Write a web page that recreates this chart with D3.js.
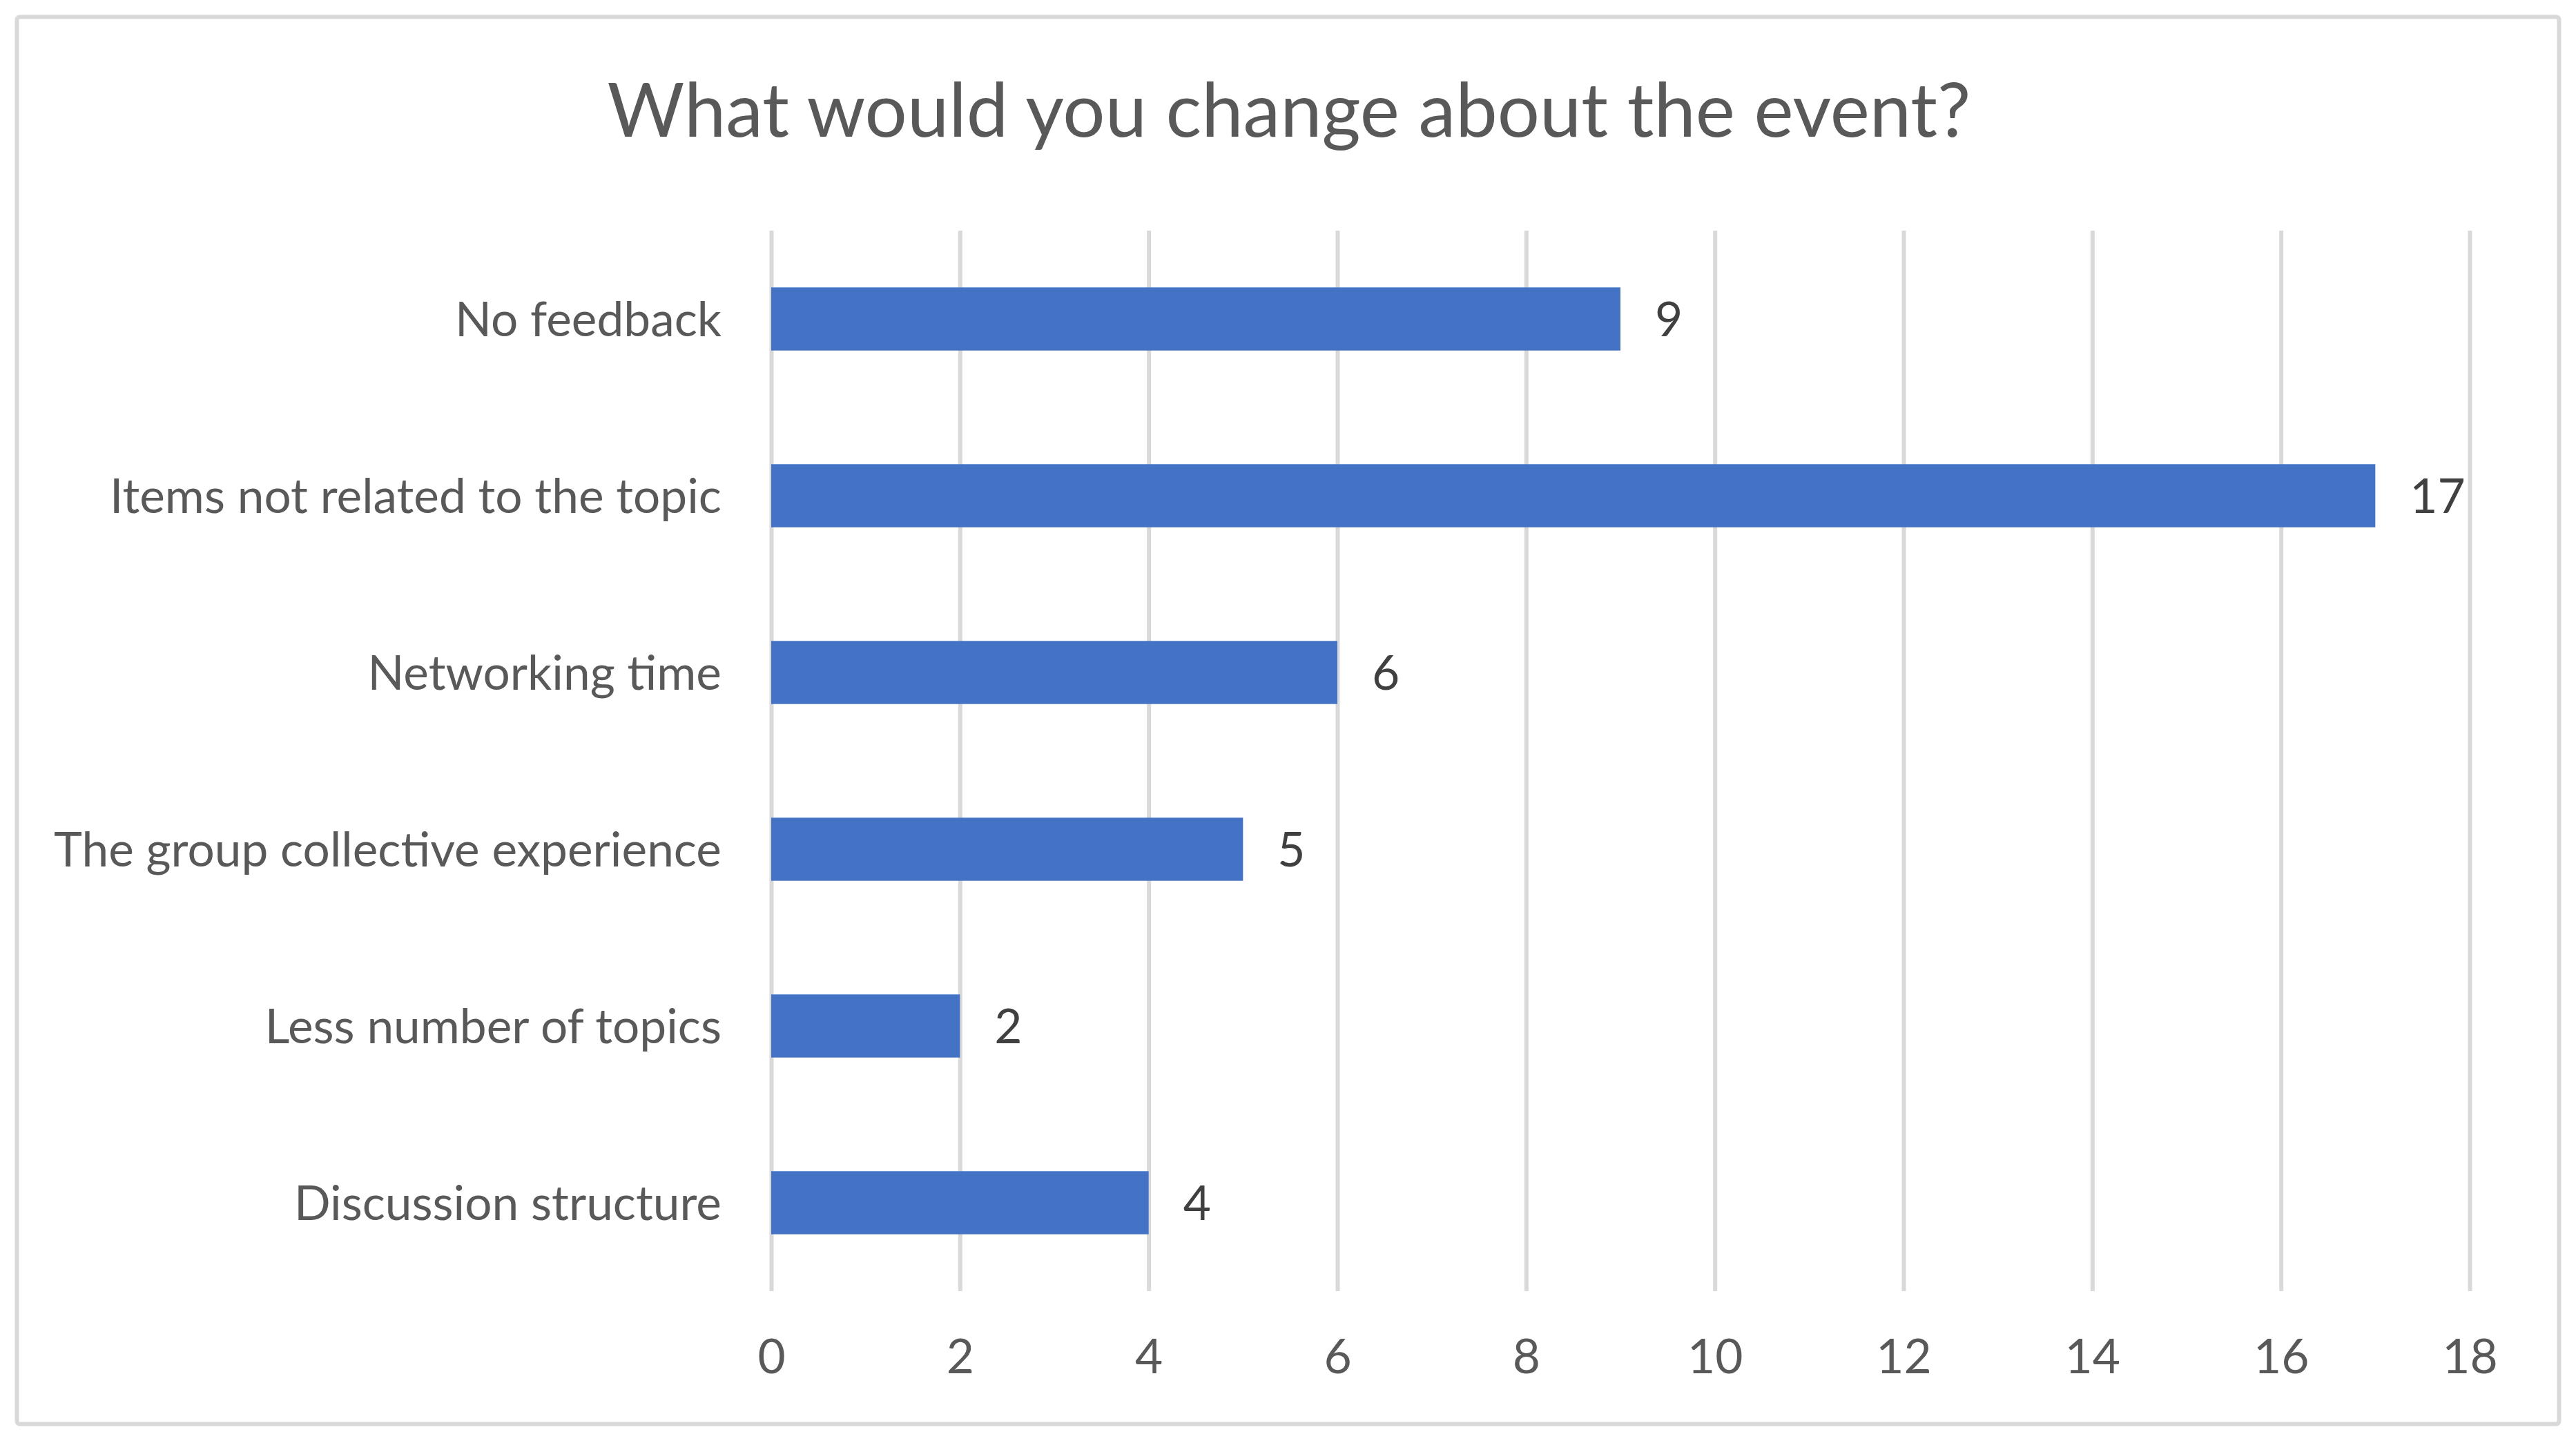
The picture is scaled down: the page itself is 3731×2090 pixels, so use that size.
<!DOCTYPE html>
<html><head><meta charset="utf-8">
<script src="https://cdn.jsdelivr.net/npm/d3@7"></script>
<style>html,body{margin:0;padding:0;background:#fff;}svg{display:block;}</style>
</head><body>
<script>
const categories = ["No feedback","Items not related to the topic","Networking time","The group collective experience","Less number of topics","Discussion structure"];
const values = [9,17,6,5,2,4];
const xTicks = [0,2,4,6,8,10,12,14,16,18];
const title = "What would you change about the event?";

const W = 3731, H = 2090;
const FONT = "Lato, 'Open Sans', sans-serif";
const svg = d3.select("body").append("svg").attr("width", W).attr("height", H);
svg.append("rect").attr("width", W).attr("height", H).attr("fill", "#fff");
svg.append("rect").attr("x", 24.5).attr("y", 24.5).attr("width", 3682).attr("height", 2038)
  .attr("rx", 4).attr("fill", "#fff").attr("stroke", "#d9d9d9").attr("stroke-width", 6);

// measure helper
function measure(txt, size){
  const t = svg.append("text").attr("font-family", FONT).attr("font-size", size).text(txt);
  const w = t.node().getComputedTextLength(); t.remove(); return w;
}
const titleSize = 100 * 1975 / measure(title, 100);
const labelTargets = {"Items not related to the topic": 887, "The group collective experience": 966};
let ratios = Object.entries(labelTargets).map(([k,v]) => 100 * v / measure(k, 100));
const labelSize = d3.mean(ratios);

const x = d3.scaleLinear().domain([0, 18]).range([1117, 3577]);
const y = d3.scaleBand().domain(categories).range([334, 1870]).paddingInner(0.643).paddingOuter(0.3215);

// gridlines
const grid = svg.append("g").attr("transform", "translate(0,1870)")
  .call(d3.axisBottom(x).tickValues(xTicks).tickSize(-(1870 - 334)).tickFormat(""));
grid.select(".domain").remove();
grid.selectAll("line").attr("stroke", "#d9d9d9").attr("stroke-width", 6);

// title
svg.append("text").attr("x", 1867).attr("y", 198).attr("text-anchor", "middle")
  .attr("font-family", FONT).attr("font-size", titleSize).attr("fill", "#595959").text(title);

// bars
svg.append("g").selectAll("rect").data(values).join("rect")
  .attr("x", x(0)).attr("y", (d, i) => y(categories[i]))
  .attr("width", d => x(d) - x(0)).attr("height", y.bandwidth()).attr("fill", "#4472c4");

// data labels
svg.append("g").selectAll("text").data(values).join("text")
  .attr("x", d => x(d) + 50).attr("y", (d, i) => y(categories[i]) + y.bandwidth() / 2 + labelSize * 0.358)
  .attr("font-family", FONT).attr("font-size", labelSize).attr("fill", "#404040").text(d => d);

// x tick labels
const xa = svg.append("g").attr("transform", "translate(0,1870)")
  .call(d3.axisBottom(x).tickValues(xTicks).tickSize(0));
xa.select(".domain").remove();
xa.selectAll("text").attr("y", 119).attr("dy", null)
  .attr("font-family", FONT).attr("font-size", labelSize).attr("fill", "#595959");

// y category labels
const ya = svg.append("g").attr("transform", "translate(1117,0)")
  .call(d3.axisLeft(y).tickSize(0).tickPadding(72));
ya.select(".domain").remove();
ya.selectAll("text").attr("dy", null).attr("y", labelSize * 0.358)
  .attr("font-family", FONT).attr("font-size", labelSize).attr("fill", "#595959");
</script>
</body></html>
